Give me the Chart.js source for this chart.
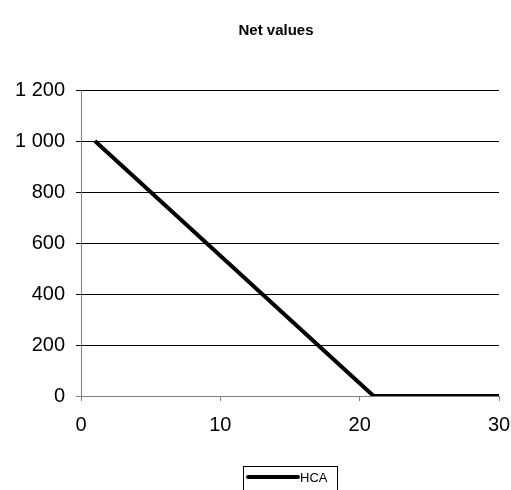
<!DOCTYPE html>
<html>
<head>
<meta charset="utf-8">
<script src="https://cdn.jsdelivr.net/npm/chart.js@4/dist/chart.umd.min.js"></script>
<style>
  html, body { margin: 0; padding: 0; background: #fff; }
  #wrap { width: 511px; height: 490px; position: relative; }
</style>
</head>
<body>
<div id="wrap"><canvas id="netChart"></canvas></div>
<script>
// Datos
const periods = [1, 2, 3, 4, 5, 6, 7, 8, 9, 10, 11, 12, 13, 14, 15, 16, 17, 18, 19, 20,
                 21, 22, 23, 24, 25, 26, 27, 28, 29, 30];
const hcaValues = [1000, 950, 900, 850, 800, 750, 700, 650, 600, 550, 500, 450, 400, 350, 300, 250, 200, 150, 100, 50,
                   0, 0, 0, 0, 0, 0, 0, 0, 0, 0];
const xTicks = [0, 10, 20, 30];
const yTicks = [0, 200, 400, 600, 800, 1000, 1200];
const seriesName = 'HCA';
const chartTitle = 'Net values';

const FONT = 'Arial, "Liberation Sans", sans-serif';

// Título y leyenda dibujados a mano (estilo Excel)
const excelDecor = {
    id: 'excelDecor',
    afterDraw(chart) {
        const ctx = chart.ctx;
        ctx.save();
        // título
        ctx.fillStyle = '#000';
        ctx.font = 'bold 15px ' + FONT;
        ctx.textAlign = 'center';
        ctx.textBaseline = 'middle';
        ctx.fillText(chartTitle, 276, 31);

        // leyenda con borde
        const ds = chart.data.datasets[0];
        ctx.strokeStyle = '#000';
        ctx.lineWidth = 1;
        ctx.strokeRect(243.5, 466.5, 94, 40);
        ctx.beginPath();
        ctx.strokeStyle = ds.borderColor;
        ctx.lineWidth = 4;
        ctx.lineCap = 'round';
        ctx.moveTo(248, 477);
        ctx.lineTo(298, 477);
        ctx.stroke();
        ctx.fillStyle = '#000';
        ctx.font = '13px ' + FONT;
        ctx.textAlign = 'left';
        ctx.fillText(ds.label, 300, 478);
        ctx.restore();
    }
};

function formatThousands(v) {
    return String(v).replace(/\B(?=(\d{3})+(?!\d))/g, ' ');
}

const ctx = document.getElementById('netChart').getContext('2d');
const netChart = new Chart(ctx, {
    type: 'line',
    data: {
        datasets: [{
            label: seriesName,
            data: periods.map((p, i) => ({ x: p, y: hcaValues[i] })),
            borderColor: '#000000',
            backgroundColor: '#000000',
            borderWidth: 4,
            pointRadius: 0,
            tension: 0,
            fill: false,
        }]
    },
    plugins: [excelDecor],
    options: {
        responsive: true,
        maintainAspectRatio: false,
        animation: false,
        layout: { padding: { top: 90, right: 12, bottom: 44, left: 0 } },
        plugins: {
            legend: { display: false },
            title: { display: false },
            tooltip: { enabled: false },
        },
        scales: {
            x: {
                type: 'linear',
                min: 0,
                max: 30,
                clip: false,
                afterBuildTicks: axis => { axis.ticks = xTicks.map(v => ({ value: v })); },
                afterFit: axis => {
                    axis.height = 50;
                    axis.paddingLeft = 0;
                    axis.paddingRight = 0;
                },
                grid: { drawOnChartArea: false, drawTicks: true, tickLength: 5, color: '#808080' },
                border: { color: '#808080', width: 1 },
                ticks: { color: '#000', font: { family: FONT, size: 20 }, padding: 12, maxRotation: 0 },
            },
            y: {
                min: 0,
                max: 1200,
                clip: false,
                afterBuildTicks: axis => { axis.ticks = yTicks.map(v => ({ value: v })); },
                afterFit: axis => {
                    axis.width = 81;
                    axis.paddingTop = 0;
                    axis.paddingBottom = 0;
                },
                grid: {
                    color: c => (c.tick && c.tick.value === 0 ? '#808080' : '#000000'),
                    tickLength: 5,
                    lineWidth: 1,
                },
                border: { color: '#808080', width: 1 },
                ticks: {
                    color: '#000',
                    font: { family: FONT, size: 20 },
                    padding: 11,
                    callback: v => formatThousands(v),
                },
            }
        }
    }
});
</script>
</body>
</html>
